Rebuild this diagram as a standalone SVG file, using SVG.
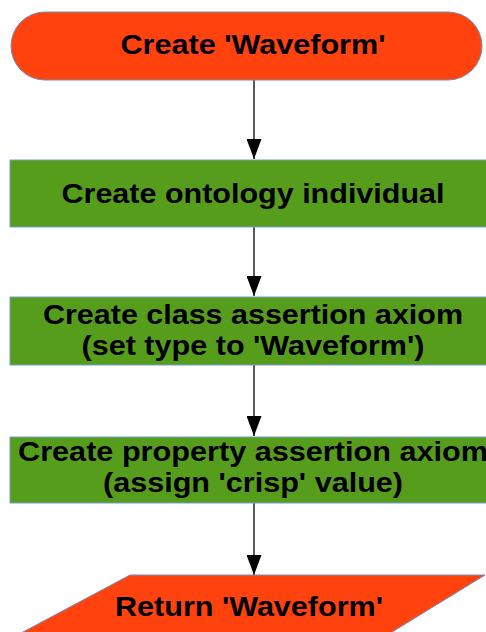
<svg xmlns="http://www.w3.org/2000/svg" width="486" height="632" viewBox="0 0 486 632">
  <defs>
    <marker id="arrow" markerWidth="20" markerHeight="15" refX="20" refY="7.5" orient="auto" markerUnits="userSpaceOnUse" viewBox="0 0 20 15">
      <path d="M0,0 L20,7.5 L0,15 Z" fill="#000"/>
    </marker>
  </defs>
  <style>
    .orange { fill: #ff420e; stroke: #7b8bb0; stroke-width: 1; }
    .green { fill: #579d1c; stroke: #729fcf; stroke-width: 1; }
    .label { font-family: "Liberation Sans", Arial, sans-serif; font-weight: bold; font-size: 28px; fill: #000; text-anchor: middle; }
    .conn { stroke: #000; stroke-width: 1.3; fill: none; marker-end: url(#arrow); }
  </style>
  <rect width="486" height="632" fill="#fff"/>

  <g id="connectors">
    <line class="conn" x1="254" y1="80" x2="254" y2="159"/>
    <line class="conn" x1="254" y1="227" x2="254" y2="296"/>
    <line class="conn" x1="254" y1="365" x2="254" y2="436"/>
    <line class="conn" x1="254" y1="503" x2="254" y2="575"/>
  </g>

  <g id="start">
    <rect class="orange" x="11" y="12" width="471" height="68" rx="34" ry="34"/>
    <text class="label" x="253" y="54" textLength="265" lengthAdjust="spacingAndGlyphs">Create 'Waveform'</text>
  </g>

  <g id="create-individual">
    <rect class="green" x="10" y="160" width="490" height="67"/>
    <text class="label" x="253" y="203" textLength="383" lengthAdjust="spacingAndGlyphs">Create ontology individual</text>
  </g>

  <g id="class-assertion">
    <rect class="green" x="10" y="297" width="490" height="68"/>
    <text class="label" x="253" y="324" textLength="420" lengthAdjust="spacingAndGlyphs">Create class assertion axiom</text>
    <text class="label" x="253" y="355" textLength="343" lengthAdjust="spacingAndGlyphs">(set type to 'Waveform')</text>
  </g>

  <g id="property-assertion">
    <rect class="green" x="10" y="437" width="490" height="66"/>
    <text class="label" x="253" y="461" textLength="470" lengthAdjust="spacingAndGlyphs">Create property assertion axiom</text>
    <text class="label" x="253" y="492" textLength="300" lengthAdjust="spacingAndGlyphs">(assign 'crisp' value)</text>
  </g>

  <g id="return">
    <polygon class="orange" points="130,575 485,575 379,640 8,640"/>
    <text class="label" x="249" y="616" textLength="268" lengthAdjust="spacingAndGlyphs">Return 'Waveform'</text>
  </g>
</svg>
